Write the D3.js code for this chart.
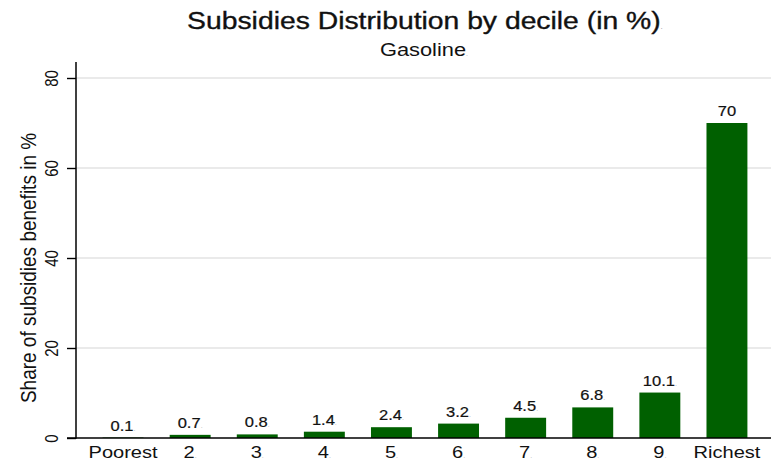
<!DOCTYPE html>
<html>
<head>
<meta charset="utf-8">
<script src="https://cdn.jsdelivr.net/npm/d3@7"></script>
<style>
  body { margin: 0; background: #fff; }
  svg { display: block; }
  svg text { font-family: "Liberation Sans", Arial, sans-serif; }
</style>
</head>
<body>
<svg id="chart" width="771" height="465"></svg>
<script>
// Share of gasoline subsidy benefits by income decile (%)
const deciles = ["Poorest", "2", "3", "4", "5", "6", "7", "8", "9", "Richest"];
const shares = [0.1, 0.7, 0.8, 1.4, 2.4, 3.2, 4.5, 6.8, 10.1, 70];
const valueLabels = ["0.1", "0.7", "0.8", "1.4", "2.4", "3.2", "4.5", "6.8", "10.1", "70"];
const yTicks = [0, 20, 40, 60, 80];

const svg = d3.select("#chart");
const W = 771, H = 465;
const plot = { left: 76, right: 771, top: 62, bottom: 438 };
const SX = 1.18; // horizontal widening of all lettering

const x = d3.scaleBand()
  .domain(deciles)
  .range([89.5, 760.5])
  .paddingInner(0.39)
  .paddingOuter(0.195);

const y = d3.scaleLinear()
  .domain([0, 80])
  .range([plot.bottom, 78]);

// horizontal gridlines
svg.append("g")
  .selectAll("line")
  .data(yTicks.filter(d => d > 0))
  .join("line")
  .attr("x1", plot.left)
  .attr("x2", W)
  .attr("y1", d => y(d))
  .attr("y2", d => y(d))
  .attr("stroke", "#e3e3e3")
  .attr("stroke-width", 1.7);

// bars
svg.append("g")
  .selectAll("rect")
  .data(shares)
  .join("rect")
  .attr("x", (d, i) => x(deciles[i]))
  .attr("width", x.bandwidth())
  .attr("y", d => y(d))
  .attr("height", d => y(0) - y(d))
  .attr("fill", "#006000");

// value labels above bars
const vl = svg.append("g")
  .selectAll("text")
  .data(shares)
  .join("text")
  .attr("transform", (d, i) =>
    `translate(${x(deciles[i]) + x.bandwidth() / 2},${y(d) - 7}) scale(${SX},1)`)
  .attr("text-anchor", "middle")
  .attr("font-size", 14)
  .attr("fill", "#111")
  .attr("stroke", "#111")
  .attr("stroke-width", 0.2);
vl.append("tspan").text((d, i) => valueLabels[i]);
vl.filter((d, i) => i < 9).append("tspan")
  .attr("font-size", 6).attr("fill", "#999").attr("stroke", "none").text(".");

// y axis
const yAxis = svg.append("g")
  .attr("transform", `translate(${plot.left},0)`)
  .call(d3.axisLeft(y).tickValues(yTicks).tickSize(9).tickSizeOuter(0).tickPadding(0));
yAxis.select(".domain").remove();
yAxis.selectAll(".tick line").attr("stroke", "#000").attr("stroke-width", 1.4);
yAxis.selectAll(".tick text").remove();
yAxis.selectAll(".tick").append("text")
  .attr("transform", `translate(-18,0) scale(${SX},1) rotate(-90)`)
  .attr("text-anchor", "middle")
  .attr("font-size", 15)
  .attr("fill", "#111")
  .text(d => d);

svg.append("line")
  .attr("x1", plot.left).attr("x2", plot.left)
  .attr("y1", plot.top).attr("y2", plot.bottom + 0.7)
  .attr("stroke", "#000").attr("stroke-width", 1.5);

// x axis
const xAxis = svg.append("g")
  .attr("transform", `translate(0,${plot.bottom})`)
  .call(d3.axisBottom(x).tickSize(0).tickPadding(0));
xAxis.select(".domain").remove();
xAxis.selectAll(".tick text").remove();
const xt = xAxis.selectAll(".tick").append("text")
  .attr("transform", `translate(0,20) scale(${SX},1)`)
  .attr("text-anchor", "middle")
  .attr("font-size", 17)
  .attr("fill", "#111");
xt.append("tspan").text(d => d);
xt.filter(d => d !== "Poorest" && d !== "Richest").append("tspan")
  .attr("font-size", 6).attr("fill", "#999").text(".");

svg.append("line")
  .attr("x1", 67).attr("x2", W)
  .attr("y1", plot.bottom).attr("y2", plot.bottom)
  .attr("stroke", "#000").attr("stroke-width", 1.5);

// axis title
svg.append("text")
  .attr("transform", `translate(36,268) scale(${SX},1) rotate(-90)`)
  .attr("text-anchor", "middle")
  .attr("font-size", 19)
  .attr("fill", "#111")
  .text("Share of subsidies benefits in %");

// titles
const t = svg.append("text")
  .attr("transform", `translate(425,29) scale(${SX},1)`)
  .attr("text-anchor", "middle")
  .attr("font-size", 24)
  .attr("fill", "#111")
  .attr("stroke", "#111")
  .attr("stroke-width", 0.35);
t.append("tspan").text("Subsidies Distribution by decile (in %)");
t.append("tspan").attr("font-size", 7).attr("fill", "#999").attr("stroke", "none").text(".");

const st = svg.append("text")
  .attr("transform", `translate(424,56) scale(${SX},1)`)
  .attr("text-anchor", "middle")
  .attr("font-size", 18.5)
  .attr("fill", "#111");
st.append("tspan").text("Gasoline");
st.append("tspan").attr("font-size", 6).attr("fill", "#999").text(".");
</script>
</body>
</html>
